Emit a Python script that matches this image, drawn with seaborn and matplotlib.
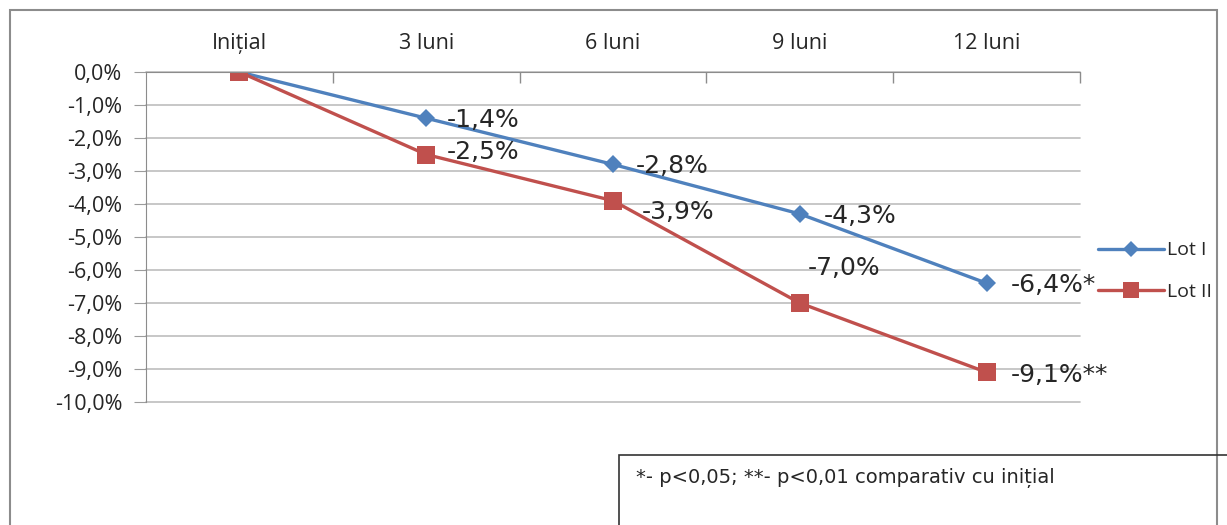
import numpy as np
import pandas as pd
import seaborn as sns
import matplotlib.pyplot as plt
from matplotlib.patches import Rectangle
from matplotlib.ticker import FuncFormatter

# data
categories = ['Inițial', '3 luni', '6 luni', '9 luni', '12 luni']
lot1 = [0.0, -1.4, -2.8, -4.3, -6.4]
lot2 = [0.0, -2.5, -3.9, -7.0, -9.1]
lot1_sig = ['', '', '', '', '*']
lot2_sig = ['', '', '', '', '**']
note = '*- p<0,05; **- p<0,01 comparativ cu inițial'

df = pd.DataFrame({
    'Moment': categories * 2,
    'Valoare': lot1 + lot2,
    'Lot': ['Lot I'] * 5 + ['Lot II'] * 5,
})

sns.set_style('white')
plt.rcParams['font.family'] = ['Open Sans', 'DejaVu Sans']

blue = '#4F81BD'
red = '#C0504D'
txt = '#262626'

fig = plt.figure(figsize=(12.27, 5.25), dpi=100)
ax = fig.add_axes([146 / 1227, 1 - 402 / 525, (1080 - 146) / 1227, (402 - 72) / 525])

sns.lineplot(data=df, x='Moment', y='Valoare', hue='Lot', style='Lot',
             palette={'Lot I': blue, 'Lot II': red},
             markers={'Lot I': 'D', 'Lot II': 's'}, dashes=False,
             linewidth=2.4, markeredgewidth=0, ax=ax, sort=False)
sizes = [9, 13]
for line, ms in zip(ax.lines[:2], sizes):
    line.set_markersize(ms)

ax.set_xlim(-0.5, len(categories) - 0.5)
ax.set_ylim(-10, 0)
ax.set_yticks(np.arange(-10, 0.1, 1))
ax.yaxis.set_major_formatter(FuncFormatter(lambda v, p: f'{v:.1f}%'.replace('.', ',')))
ax.xaxis.tick_top()
ax.set_xticks(range(len(categories)))
ax.set_xticklabels(categories)
ax.set_xticks(np.arange(0.5, len(categories), 1), minor=True)
ax.tick_params(axis='x', which='major', length=0, pad=13, labelsize=15.5, colors=txt)
ax.tick_params(axis='x', which='minor', direction='in', length=8, width=1,
               color='#8C8C8C', top=True, bottom=False)
ax.tick_params(axis='y', which='major', left=True, length=9, color='#9C9C9C',
               labelsize=15.5, colors=txt, pad=8)
ax.set_xlabel('')
ax.set_ylabel('')
ax.grid(axis='y', color='#BEBEBE', linewidth=1.2)
for gl in ax.get_ygridlines():
    gl.set_clip_on(False)
ax.set_axisbelow(True)
for side in ['right', 'bottom']:
    ax.spines[side].set_visible(False)
ax.spines['left'].set_color('#8C8C8C')
ax.spines['top'].set_color('#8C8C8C')

# data labels
off1 = [None, (21, -2), (23, -2), (24, -2), (24, -2)]
off2 = [None, (21, 2), (29, -11), (8, 35), (24, -3)]
for vals, sig, offs in [(lot1, lot1_sig, off1), (lot2, lot2_sig, off2)]:
    for i, (v, s, o) in enumerate(zip(vals, sig, offs)):
        if o is None:
            continue
        ax.annotate(f'{v:.1f}%'.replace('.', ',') + s, (i, v), xytext=o,
                    textcoords='offset pixels', ha='left', va='center',
                    fontsize=18, family='DejaVu Sans', color=txt)

leg = ax.legend(loc='center left', bbox_to_anchor=(1088 / 1227, 1 - 271 / 525),
                bbox_transform=fig.transFigure, frameon=False, fontsize=14,
                handlelength=3.4, labelspacing=1.2, handletextpad=0.15, borderpad=0)
for h, ms in zip(leg.legend_handles, sizes):
    h.set_markersize(ms * 0.85)
    h.set_linewidth(2.4)
for t in leg.get_texts():
    t.set_color(txt)

# outer chart border
fig.patches.append(Rectangle((10 / 1227, -0.1), 1207 / 1227, 1.1 - 10 / 525,
                             transform=fig.transFigure, fill=False,
                             edgecolor='#8C8C8C', linewidth=1.5))
# note box
fig.patches.append(Rectangle((619 / 1227, -0.1), 1 - 619 / 1227 + 0.1, 0.1 + 1 - 455 / 525,
                             transform=fig.transFigure, fill=False,
                             edgecolor='#333333', linewidth=1.2))
fig.text(636 / 1227, 1 - 478 / 525, note, fontsize=14, family='DejaVu Sans',
         color=txt, va='center', ha='left')

fig.savefig('out.png', dpi=100)
